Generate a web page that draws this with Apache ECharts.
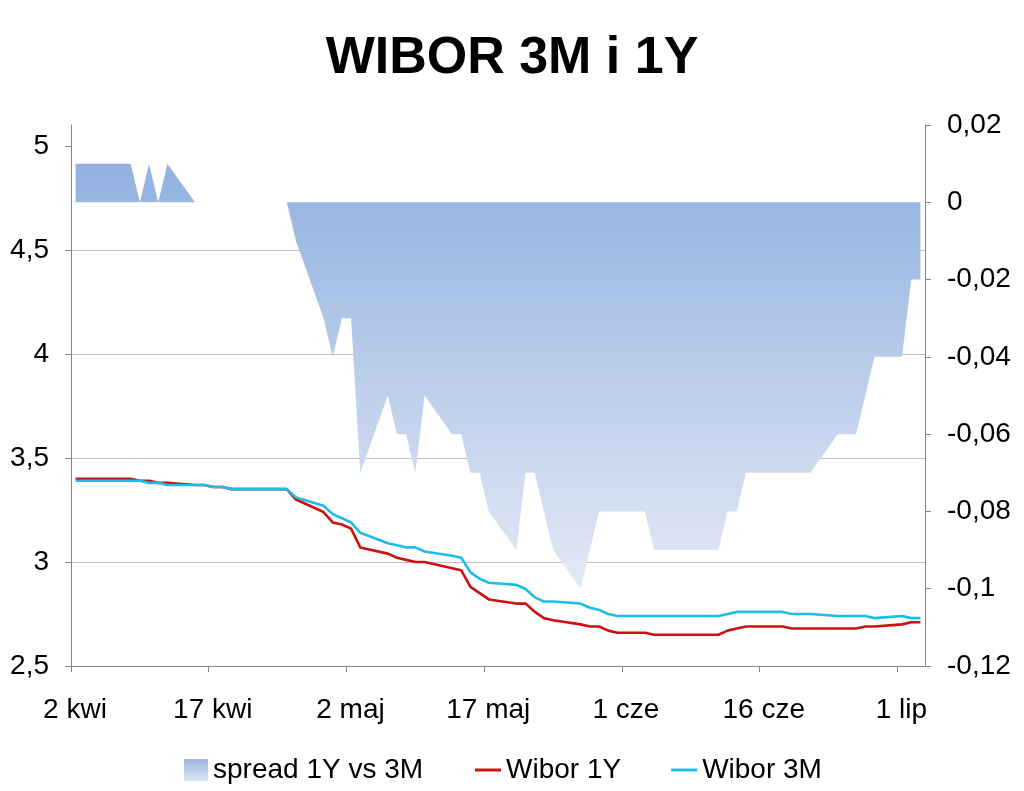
<!DOCTYPE html>
<html>
<head>
<meta charset="utf-8">
<script src="https://cdn.jsdelivr.net/npm/echarts@6/dist/echarts.min.js"></script>
<style>html,body{margin:0;padding:0;background:#fff}#c{width:1024px;height:791px}</style>
</head>
<body>
<div id="c"></div>
<script>
// Trading dates (2013)
const dates = [
 '2013-04-02','2013-04-03','2013-04-04','2013-04-05','2013-04-08','2013-04-09','2013-04-10','2013-04-11','2013-04-12',
 '2013-04-15','2013-04-16','2013-04-17','2013-04-18','2013-04-19','2013-04-22','2013-04-23','2013-04-24','2013-04-25',
 '2013-04-26','2013-04-29','2013-04-30',
 '2013-05-01','2013-05-02','2013-05-03','2013-05-06','2013-05-07','2013-05-08','2013-05-09','2013-05-10','2013-05-13',
 '2013-05-14','2013-05-15','2013-05-16','2013-05-17','2013-05-20','2013-05-21','2013-05-22','2013-05-23','2013-05-24',
 '2013-05-27','2013-05-28','2013-05-29','2013-05-30','2013-05-31',
 '2013-06-03','2013-06-04','2013-06-05','2013-06-06','2013-06-07','2013-06-10','2013-06-11','2013-06-12','2013-06-13',
 '2013-06-14','2013-06-17','2013-06-18','2013-06-19','2013-06-20','2013-06-21','2013-06-24','2013-06-25','2013-06-26',
 '2013-06-27','2013-06-28',
 '2013-07-01','2013-07-02','2013-07-03'
];
const wibor3M = [
 3.39,3.39,3.39,3.39,3.39,3.39,3.38,3.38,3.37,3.37,3.37,3.36,3.36,3.35,3.35,3.35,3.35,3.35,3.31,3.27,3.23,
 3.21,3.19,3.14,3.09,3.08,3.07,3.07,3.05,3.03,3.02,2.95,2.92,2.90,2.89,2.87,2.83,2.81,2.81,2.80,2.78,2.77,2.75,2.74,
 2.74,2.74,2.74,2.74,2.74,2.74,2.74,2.75,2.76,2.76,2.76,2.76,2.75,2.75,2.75,2.74,2.74,2.74,2.74,2.73,
 2.74,2.73,2.73
];
const wibor1Y = [
 3.40,3.40,3.40,3.40,3.40,3.39,3.39,3.38,3.38,3.37,3.37,3.36,3.36,3.35,3.35,3.35,3.35,3.35,3.30,3.24,3.19,
 3.18,3.16,3.07,3.04,3.02,3.01,3.00,3.00,2.97,2.96,2.88,2.85,2.82,2.80,2.80,2.76,2.73,2.72,2.70,2.69,2.69,2.67,2.66,
 2.66,2.65,2.65,2.65,2.65,2.65,2.65,2.67,2.68,2.69,2.69,2.69,2.68,2.68,2.68,2.68,2.68,2.68,2.69,2.69,
 2.70,2.71,2.71
];
const spread = [
 0.01,0.01,0.01,0.01,0.01,0,0.01,0,0.01,0,0,0,0,0,0,0,0,0,-0.01,-0.03,-0.04,
 -0.03,-0.03,-0.07,-0.05,-0.06,-0.06,-0.07,-0.05,-0.06,-0.06,-0.07,-0.07,-0.08,-0.09,-0.07,-0.07,-0.08,-0.09,-0.10,-0.09,-0.08,-0.08,-0.08,
 -0.08,-0.09,-0.09,-0.09,-0.09,-0.09,-0.09,-0.08,-0.08,-0.07,-0.07,-0.07,-0.07,-0.07,-0.07,-0.06,-0.06,-0.06,-0.05,-0.04,
 -0.04,-0.02,-0.02
];
const xTickLabels = ['2 kwi','17 kwi','2 maj','17 maj','1 cze','16 cze','1 lip'];
const leftTicks = [2.5,3,3.5,4,4.5,5];

const startDate = Date.UTC(2013,3,2);
function dayPos(s){ const p=s.split('-'); return (Date.UTC(+p[0],+p[1]-1,+p[2])-startDate)/86400000 + 0.5; }
const xs = dates.map(dayPos);
const pair = arr => arr.map((v,i)=>[xs[i], v]);
const xTickVals = xTickLabels.map((_,i)=>i*15);

const FONT = 'Liberation Sans';
const grad = () => new echarts.graphic.LinearGradient(0,0,0,1,[{offset:0,color:'#91B1E0'},{offset:1,color:'#E3E9F5'}]);

const chart = echarts.init(document.getElementById('c'), null, {renderer:'canvas'});
chart.setOption({
  animation:false,
  backgroundColor:'#fff',
  title:{text:'WIBOR 3M i 1Y', left:'center', top:33, padding:0,
    textStyle:{fontFamily:FONT, fontWeight:'bold', fontSize:52, color:'#000'}},
  legend:[
    {top:756, left:184, padding:0, itemWidth:24, itemHeight:22,
      textStyle:{fontFamily:FONT, fontSize:28, color:'#000'},
      data:[{name:'spread 1Y vs 3M', icon:'rect',
        itemStyle:{color:new echarts.graphic.LinearGradient(0,0,0,1,[{offset:0,color:'#9DB8E2'},{offset:1,color:'#DCE4F3'}])}}]},
    {top:756, left:475, padding:0, itemGap:50, itemWidth:26, itemHeight:3,
      textStyle:{fontFamily:FONT, fontSize:28, color:'#000'},
      data:[{name:'Wibor 1Y', icon:'rect'},{name:'Wibor 3M', icon:'rect'}]}
  ],
  grid:{left:71, right:99, top:125, bottom:125, containLabel:false},
  xAxis:{type:'value', min:0, max:93, interval:15,
    axisLine:{onZero:false, lineStyle:{color:'#868686', width:1}},
    axisTick:{show:true, length:6, lineStyle:{color:'#868686'}, customValues:xTickVals},
    axisLabel:{fontFamily:FONT, fontSize:28, color:'#000', margin:30, padding:[0,0,0,8], customValues:xTickVals,
      formatter:v=>{const i=Math.round(v/15); return (Math.abs(v-i*15)<1e-6 && xTickLabels[i])?xTickLabels[i]:'';}},
    splitLine:{show:false}},
  yAxis:[
    {type:'value', position:'left', min:2.5, max:5.1, interval:0.5,
      axisLine:{show:true, onZero:false, lineStyle:{color:'#868686', width:1}},
      axisTick:{show:true, length:6, lineStyle:{color:'#868686'}, customValues:leftTicks},
      axisLabel:{fontFamily:FONT, fontSize:28, color:'#000', margin:22, customValues:leftTicks,
        formatter:v=>String(+v.toFixed(2)).replace('.',',')},
      splitLine:{show:true, showMaxLine:false, showMinLine:false, lineStyle:{color:'#BEBEBE', width:1}}},
    {type:'value', position:'right', min:-0.12, max:0.02, interval:0.02,
      axisLine:{show:true, onZero:false, lineStyle:{color:'#868686', width:1}},
      axisTick:{show:true, length:6, lineStyle:{color:'#868686'}},
      axisLabel:{fontFamily:FONT, fontSize:28, color:'#000', margin:22,
        formatter:v=>{let n=+v.toFixed(2); if(Object.is(n,-0)) n=0; return String(n).replace('.',',');}},
      splitLine:{show:false}}
  ],
  series:[
    {name:'spread 1Y vs 3M', type:'line', yAxisIndex:1, data:pair(spread), symbol:'none', showSymbol:false,
      lineStyle:{width:0, opacity:0}, itemStyle:{color:'#9DB8E2'},
      areaStyle:{origin:0, color:grad(), opacity:1}, z:1},
    {name:'Wibor 1Y', type:'line', yAxisIndex:0, data:pair(wibor1Y), symbol:'none', showSymbol:false,
      lineStyle:{width:2.6, color:'#CC1111'}, itemStyle:{color:'#CC1111'}, z:3},
    {name:'Wibor 3M', type:'line', yAxisIndex:0, data:pair(wibor3M), symbol:'none', showSymbol:false,
      lineStyle:{width:2.6, color:'#1EBDE6'}, itemStyle:{color:'#1EBDE6'}, z:4}
  ]
});
</script>
</body>
</html>
